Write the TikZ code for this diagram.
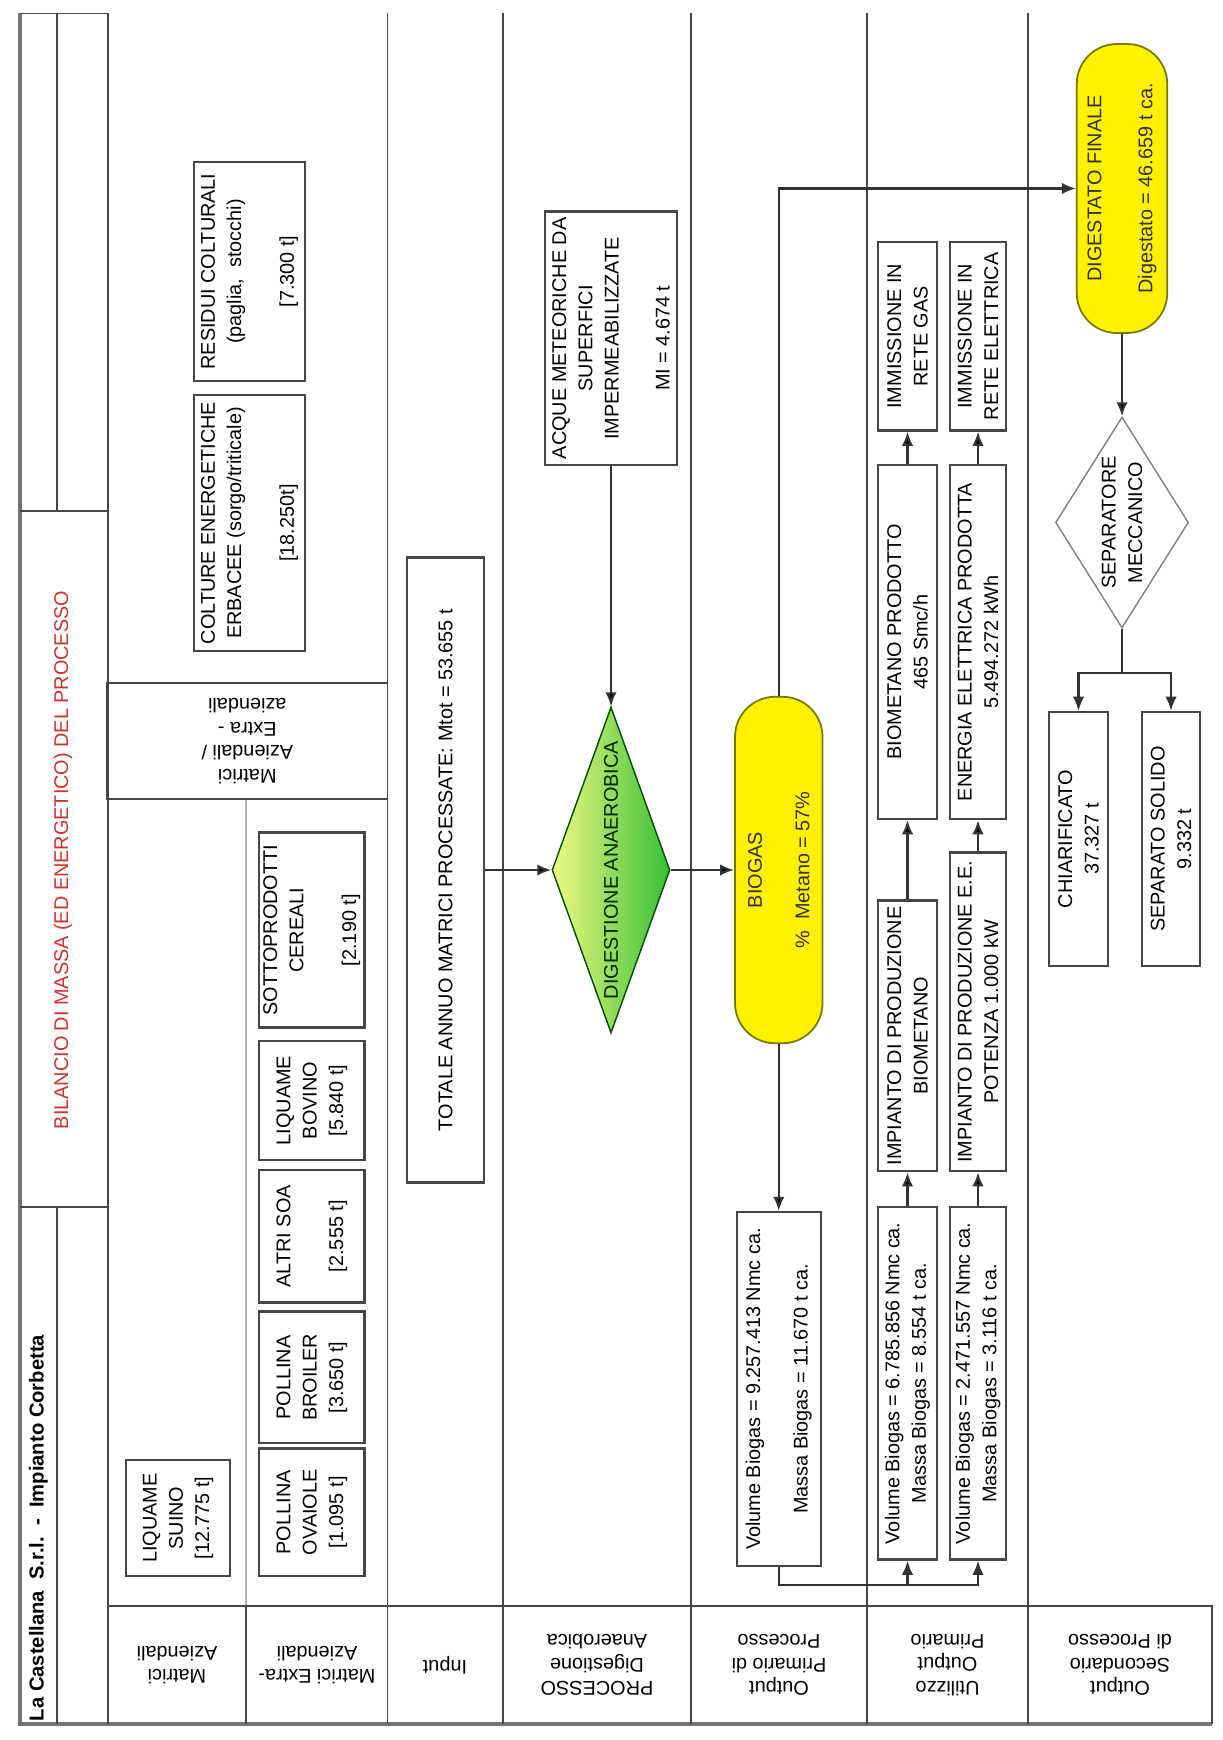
\documentclass[tikz,border=0pt]{standalone}
\usepackage{fontspec}
\setmainfont{Liberation Sans}
\usetikzlibrary{arrows.meta,shapes}
\definecolor{titlered}{RGB}{205,50,50}
\definecolor{linegray}{RGB}{70,70,70}
\definecolor{pillborder}{RGB}{120,120,0}

\begin{document}
\begin{tikzpicture}[x=0.02cm,y=-0.02cm,>={Latex[length=8pt,width=6.5pt]},
    lane/.style={draw=linegray,line width=1.1pt},
    frame/.style={draw=black!55,line width=2pt},
    conn/.style={draw=black!80,line width=1.2pt},
    txt/.style={font=\fontsize{11.3}{15}\selectfont,align=center,inner sep=1pt},
    box/.style={txt,rotate=90,shape=rectangle,draw=linegray,line width=1.4pt},
    hdr/.style={txt,rotate=180,font=\fontsize{11.3}{13.5}\selectfont},
    pill/.style={txt,rotate=90,shape=rectangle,rounded corners=0.8cm,draw=pillborder,fill=yellow,line width=1pt,text=black!80}]
                \useasboundingbox (0,0) rectangle (1223,1740);
                % title column and lanes
                \draw[frame](20,13.5) -- (20,1724) -- (1212,1724);
                \draw[lane](20,13.5) -- (108,13.5);
                \draw[lane](57,13.5) -- (57,511);
                \draw[lane](20,511) -- (108,511);
                \draw[lane](20,1207) -- (108,1207);
                \draw[lane](57,1207) -- (57,1724);
                \draw[lane](108,13.5) -- (108,1724);
                \foreach \x in {387.5,503,690.6,867,1028}
                    \draw[lane](\x,13.5) -- (\x,1724);
                \draw[lane,draw=black!30](246.3,799) -- (246.3,1606);
                \draw[lane](246.3,1606) -- (246.3,1724);
                \draw[lane](108,1606) -- (1212,1606) -- (1212,1724);
                \node[txt,rotate=90,font=\fontsize{11.5}{14}\selectfont\bfseries](company)at(38.5, 1528){La Castellana\ \ S.r.l.\ \ -\ \ Impianto Corbetta};
                \node[txt,rotate=90,text=titlered](bilancio)at(63, 860){BILANCIO DI MASSA (ED ENERGETICO) DEL PROCESSO};
                \node[hdr,draw=linegray,line width=1.1pt,minimum width=5.61cm,minimum height=2.32cm](matrici)at(247.3, 741){Matrici\\Aziendali /\\Extra -\\aziendali};
                % header row
                \node[hdr](hAz)at(177, 1665){Matrici\\Aziendali};
                \node[hdr](hExtra)at(317, 1665){Matrici Extra-\\Aziendali};
                \node[hdr](hInput)at(445, 1665){Input};
                \node[hdr](hProc)at(597, 1665){PROCESSO\\Digestione\\Anaerobica};
                \node[hdr](hOutP)at(779, 1665){Output\\Primario di\\Processo};
                \node[hdr](hUtil)at(947.5, 1665){Utilizzo\\Output\\Primario};
                \node[hdr](hOutS)at(1120, 1665){Output\\Secondario\\di Processo};
                % matrici
                \node[box,minimum width=4.38cm,minimum height=2.22cm](residui)at(249.5, 271.5){RESIDUI COLTURALI\\(paglia,\ \ stocchi)\\[15pt]{[}7.300 t]};
                \node[box,minimum width=5.12cm,minimum height=2.22cm](colture)at(249.5, 523){COLTURE ENERGETICHE\\ERBACEE (sorgo/triticale)\\[15pt]{[}18.250t]};
                \node[box,minimum width=2.32cm,minimum height=2.08cm](suino)at(178, 1518){LIQUAME\\SUINO\\{[}12.775 t]};
                \node[box,minimum width=2.55cm,minimum height=2.11cm](ovaiole)at(311.8, 1512.3){POLLINA\\OVAIOLE\\{[}1.095 t]};
                \node[box,minimum width=2.63cm,minimum height=2.11cm](broiler)at(311.8, 1377.4){POLLINA\\BROILER\\{[}3.650 t]};
                \node[box,minimum width=2.65cm,minimum height=2.11cm](soa)at(311.8, 1236.2){ALTRI SOA\\[15pt]{[}2.555 t]};
                \node[box,minimum width=2.38cm,minimum height=2.11cm](bovino)at(311.8, 1100.5){LIQUAME\\BOVINO\\{[}5.840 t]};
                \node[box,minimum width=3.9cm,minimum height=2.11cm](cereali)at(311.8, 930.2){SOTTOPRODOTTI\\CEREALI\\[15pt]{[}2.190 t]};
                % input and process
                \node[box,minimum width=12.5cm,minimum height=1.54cm](totale)at(445.5, 870){TOTALE ANNUO MATRICI PROCESSATE: Mtot = 53.655 t};
                \node[box,minimum width=5.07cm,minimum height=2.64cm](acque)at(611, 338.3){ACQUE METEORICHE DA\\SUPERFICI\\IMPERMEABILIZZATE\\[14pt]MI = 4.674 t};
                \node[txt,rotate=90,shape=diamond,shape aspect=2.76,inner sep=0pt,minimum width=6.52cm,minimum height=2.36cm,draw=green!30!black,line width=0.8pt,text=green!15!black,left color={rgb,255:red,240;green,250;blue,130},right color={rgb,255:red,55;green,190;blue,55}](digestione)at(611, 870){DIGESTIONE ANAEROBICA};
                % output primario
                \node[pill,minimum width=6.93cm,minimum height=1.75cm](biogas)at(778.75, 870){BIOGAS\\[12pt]\%\ \ Metano = 57\%};
                \node[box,minimum width=7.08cm,minimum height=1.68cm](volbiogas)at(778.75, 1389){Volume Biogas = 9.257.413 Nmc ca.\\[12pt]Massa Biogas = 11.670 t ca.};
                % utilizzo
                \node[box,minimum width=3.77cm,minimum height=1.18cm](retegas)at(907.5, 336.3){IMMISSIONE IN\\RETE GAS};
                \node[box,minimum width=3.77cm,minimum height=1.12cm](reteel)at(978, 336.3){IMMISSIONE IN\\RETE ELETTRICA};
                \node[box,minimum width=7.08cm,minimum height=1.18cm](biometano)at(907.5, 642){BIOMETANO PRODOTTO\\465 Smc/h};
                \node[box,minimum width=7.08cm,minimum height=1.12cm](energia)at(978, 642){ENERGIA ELETTRICA PRODOTTA\\5.494.272 kWh};
                \node[box,minimum width=5.41cm,minimum height=1.18cm](impbiometano)at(907.5, 1035.9){IMPIANTO DI PRODUZIONE\\BIOMETANO};
                \node[box,minimum width=6.37cm,minimum height=1.12cm](impee)at(978, 1011.8){IMPIANTO DI PRODUZIONE E.E.\\POTENZA 1.000 kW};
                \node[box,minimum width=7.05cm,minimum height=1.18cm](volbiometano)at(907.5, 1383.3){Volume Biogas = 6.785.856 Nmc ca.\\Massa Biogas = 8.554 t ca.};
                \node[box,minimum width=7.05cm,minimum height=1.12cm](volee)at(978, 1383.3){Volume Biogas = 2.471.557 Nmc ca.\\Massa Biogas = 3.116 t ca.};
                % output secondario
                \node[pill,minimum width=5.78cm,minimum height=1.81cm](digestato)at(1122, 188.5){DIGESTATO FINALE\\[14pt]Digestato = 46.659 t ca.};
                \node[txt,rotate=90,shape=diamond,shape aspect=1.59,inner sep=0pt,minimum width=4.22cm,minimum height=2.66cm,draw=black!50,line width=0.8pt](separatore)at(1122, 522.5){SEPARATORE\\MECCANICO};
                \node[box,minimum width=5.08cm,minimum height=1.18cm](chiarificato)at(1078.5, 839){CHIARIFICATO\\37.327 t};
                \node[box,minimum width=5.08cm,minimum height=1.16cm](solido)at(1171, 839){SEPARATO SOLIDO\\9.332 t};
                \coordinate(biosplit)at(778.75, 1585.4);
                \coordinate(sepsplit)at(1122, 673);
                \path[conn,->](totale) edge (digestione)
                (acque) edge (digestione)
                (digestione) edge (biogas)
                (biogas) edge (volbiogas)
                (volbiometano) edge (impbiometano)
                (impbiometano) edge (biometano)
                (biometano) edge (retegas)
                (volee) edge (impee)
                (impee) edge (energia)
                (energia) edge (reteel)
                (digestato) edge (separatore);
                \draw[conn,->](biogas.east) |- (digestato);
                \draw[conn,->](volbiogas.west) -- (biosplit) -| (volee.west);
                \draw[conn,->](biosplit) -| (volbiometano.west);
                \draw[conn](separatore.west) -- (sepsplit);
                \draw[conn,->](sepsplit) -| (chiarificato.east);
                \draw[conn,->](sepsplit) -| (solido.east);
            \end{tikzpicture}
\end{document}
